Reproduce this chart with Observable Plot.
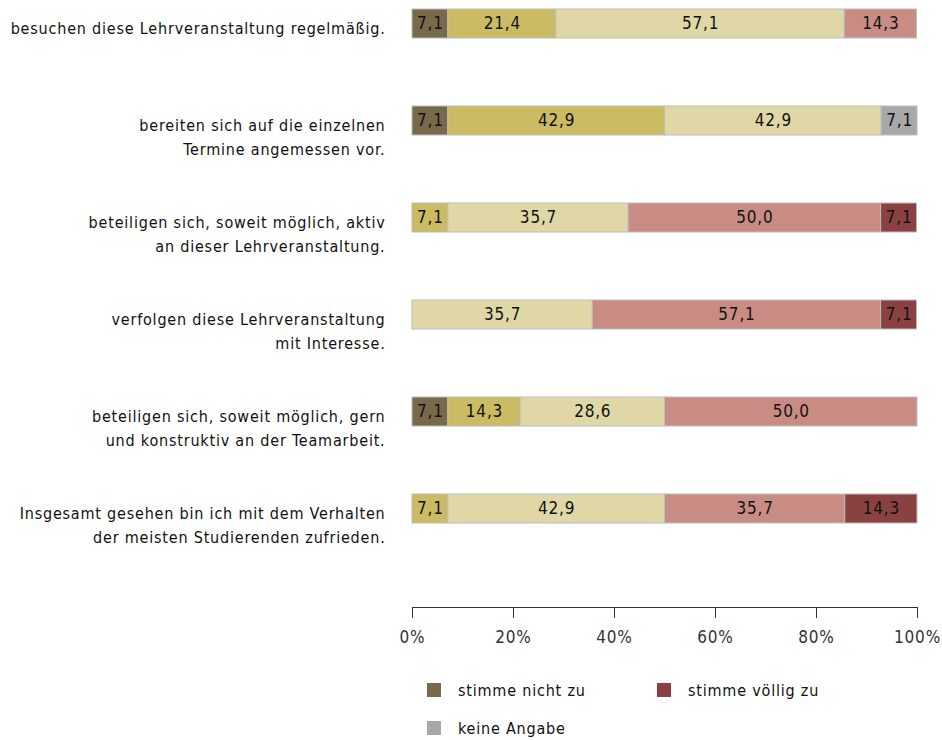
<!DOCTYPE html>
<html>
<head>
<meta charset="utf-8">
<script src="https://cdn.jsdelivr.net/npm/d3@7"></script>
<script src="https://cdn.jsdelivr.net/npm/@observablehq/plot@0.6"></script>
<style>
  body { margin: 0; background: #fff; }
  #wrap { position: relative; width: 942px; height: 740px; font-family: "DejaVu Sans Condensed", "Liberation Sans Narrow", sans-serif; }
  .leg { position: absolute; font-size: 16px; letter-spacing: 0.8px; color: #111; display: flex; align-items: center; }
  .sw { width: 14px; height: 14px; margin-right: 17px; display: inline-block; }
</style>
</head>
<body>
<div id="wrap"><div id="chart"></div></div>
<script>
const categories = [
  "besuchen diese Lehrveranstaltung regelmäßig.",
  "bereiten sich auf die einzelnen\nTermine angemessen vor.",
  "beteiligen sich, soweit möglich, aktiv\nan dieser Lehrveranstaltung.",
  "verfolgen diese Lehrveranstaltung\nmit Interesse.",
  "beteiligen sich, soweit möglich, gern\nund konstruktiv an der Teamarbeit.",
  "Insgesamt gesehen bin ich mit dem Verhalten\nder meisten Studierenden zufrieden."
];
const seriesNames = ["stimme nicht zu", "stimme eher nicht zu", "stimme eher zu", "stimme zu", "stimme völlig zu", "keine Angabe"];
const seriesColors = ["#776a4b", "#cbbb62", "#e0d7a6", "#c98c84", "#8b4141", "#a8a8a8"];
const nichtZu   = [7.1, 7.1, 0, 0, 7.1, 0];
const eherNicht = [21.4, 42.9, 7.1, 0, 14.3, 7.1];
const eherZu    = [57.1, 42.9, 35.7, 35.7, 28.6, 42.9];
const zu        = [14.3, 0, 50.0, 57.1, 50.0, 35.7];
const voellig   = [0, 0, 7.1, 7.1, 0, 14.3];
const keine     = [0, 7.1, 0, 0, 0, 0];
const xTicks = [0, 20, 40, 60, 80, 100];
const legendItems = ["stimme nicht zu", "stimme völlig zu", "keine Angabe"];

const seriesValues = [nichtZu, eherNicht, eherZu, zu, voellig, keine];
const data = [];
seriesNames.forEach((s, si) => {
  categories.forEach((c, ci) => {
    const v = seriesValues[si][ci];
    if (v > 0) data.push({cat: c, series: s, value: v});
  });
});

const font = `"DejaVu Sans Condensed", "Liberation Sans Narrow", sans-serif`;
const fmt = v => v.toFixed(1).replace(".", ",");

const chart = Plot.plot({
  width: 942,
  height: 655,
  marginLeft: 412,
  marginRight: 25,
  marginTop: 0,
  marginBottom: 48,
  style: {fontFamily: font, fontSize: "17px", color: "#333", background: "#fff", letterSpacing: "0.8px"},
  x: {domain: [0, 100], ticks: xTicks, tickFormat: d => d + "%", tickSize: 11, tickPadding: 12, line: true, label: null},
  y: {domain: categories, range: [0, 533], paddingInner: 0.7, paddingOuter: 0.092, axis: null},
  color: {domain: seriesNames, range: seriesColors},
  marks: [
    Plot.barX(data, Plot.stackX({x: "value", y: "cat", fill: "series", stroke: "#bdbdbd", strokeWidth: 1})),
    Plot.text(data, Plot.stackX({x: "value", y: "cat", z: "series", text: d => fmt(d.value), fill: "#111", fontSize: 17})),
    Plot.text(categories, {x: 0, y: d => d, text: d => d, textAnchor: "end", lineAnchor: "top", lineHeight: 1.45, dx: -27, dy: -6, fill: "#111", fontSize: 16})
  ]
});
document.getElementById("chart").appendChild(chart);

const wrap = document.getElementById("wrap");
const pos = [[427, 690], [657, 690], [427, 728]];
legendItems.forEach((name, i) => {
  const el = document.createElement("div");
  el.className = "leg";
  el.style.left = pos[i][0] + "px";
  el.style.top = (pos[i][1] - 10) + "px";
  el.style.height = "20px";
  const sw = document.createElement("span");
  sw.className = "sw";
  sw.style.background = seriesColors[seriesNames.indexOf(name)];
  el.appendChild(sw);
  el.appendChild(document.createTextNode(name));
  wrap.appendChild(el);
});
</script>
</body>
</html>
